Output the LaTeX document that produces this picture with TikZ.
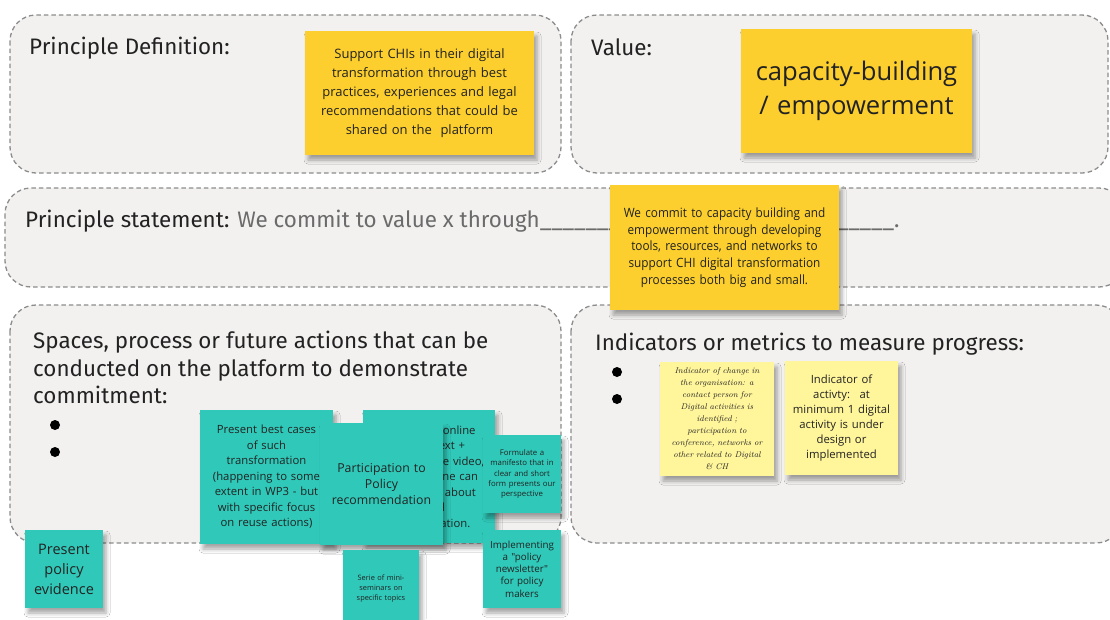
\documentclass[tikz,border=0pt]{standalone}
\usepackage{fontspec}
\newfontfamily\osans{Open Sans}
\newfontfamily\ocond[FakeStretch=0.92]{Open Sans}
\newfontfamily\hdr{Fira Sans}
\usetikzlibrary{shadows.blur}
\definecolor{boxfill}{HTML}{F2F1F0}
\definecolor{boxline}{HTML}{8C8C8C}
\definecolor{stkyellow}{HTML}{FCCF2E}
\definecolor{stkteal}{HTML}{30C9B9}
\definecolor{stklight}{HTML}{FFF59B}
\definecolor{ink}{HTML}{222222}
\definecolor{greytext}{HTML}{6B6B6B}
\begin{document}
\begin{tikzpicture}[x=1pt,y=-1pt,
  panel/.style={draw=boxline, fill=boxfill, line width=1.3pt, dash pattern=on 4.5pt off 3pt, rounded corners=26pt},
  header/.style={inner sep=0pt, text=ink, font=\hdr\fontsize{22.4}{27.5}\selectfont, align=left},
  sticky/.style={inner sep=0pt, align=center, text=ink, font=\osans,
    blur shadow={shadow xshift=3pt, shadow yshift=-5pt, shadow blur radius=4pt, shadow opacity=35}},
  yel/.style={sticky, fill=stkyellow},
  teal/.style={sticky, fill=stkteal},
  lyel/.style={sticky, fill=stklight},
  bullet/.style={fill=black}]
\useasboundingbox (0,0) rectangle (1110,619);
\clip (0,0) rectangle (1110,619);
\fill[white] (0,0) rectangle (1110,619);
% panels
\draw[panel] (10,15) rectangle (561,173);
\draw[panel] (571,15) rectangle (1108,173);
\draw[panel] (5,188) rectangle (1125,287);
\draw[panel] (10,305) rectangle (561,543);
\draw[panel] (571,305) rectangle (1122,543);
% headers
\node[header, anchor=west] (pdef) at (29,48) {Principle Definition:};
\node[header, anchor=west] (val) at (591,47) {Value:};
\node[header, anchor=base west] (pstate) at (25,227) {Principle statement: {\color{greytext}We commit to value x through\_\_\_\_\_\_\_\_\_\_\_\_\_\_\_\_\_\_\_\_\_\_\_\_\_\_\_\_\_\_\_.}};
\node[header, anchor=north west] (spaces) at (33,331) {Spaces, process or future actions that can be\\conducted on the platform to demonstrate\\commitment:};
\node[header, anchor=west] (indic) at (595,344) {Indicators or metrics to measure progress:};
% bullets
\fill[bullet] (55,425) circle (5pt);
\fill[bullet] (55,452) circle (5pt);
\fill[bullet] (617,372) circle (5pt);
\fill[bullet] (617,399) circle (5pt);
% yellow stickies
\node[yel, minimum width=229pt, minimum height=124pt, text width=224pt, font=\osans\fontsize{13}{19}\selectfont] (ydef) at (419.5,93)
  {Support CHIs in their digital\\transformation through best\\practices, experiences and legal\\recommendations that could be\\shared on the \ platform};
\node[yel, minimum width=231pt, minimum height=124pt, text width=228pt, font=\osans\fontsize{25.6}{34}\selectfont] (yval) at (856.5,91)
  {capacity-building\\/ empowerment};
\node[yel, minimum width=229pt, minimum height=125pt, text width=224pt, font=\ocond\fontsize{12.8}{16.8}\selectfont] (ystate) at (724.5,247.5)
  {We commit to capacity building and\\empowerment through developing\\tools, resources, and networks to\\support CHI digital transformation\\processes both big and small.};
% teal stickies
\node[teal, minimum width=133pt, minimum height=134pt, text width=130pt, font=\osans\fontsize{11.3}{15.5}\selectfont] (tbest) at (266.5,477)
  {Present best cases\\of such\\transformation\\(happening to some\\extent in WP3 - but\\with specific focus\\on reuse actions)};
\node[teal, minimum width=132pt, minimum height=133pt, text width=130pt, font=\osans\fontsize{11.3}{15.5}\selectfont] (tonline) at (429,476.5)
  {Provide an online\\guides (text +\\possibly some video,\\where anyone can\\learn more about\\digital\\transformation.};
\node[teal, minimum width=123pt, minimum height=122pt, text width=120pt, font=\osans\fontsize{12.3}{16}\selectfont] (tpart) at (381.5,484)
  {Participation to\\Policy\\recommendation};
\node[teal, minimum width=78pt, minimum height=78pt, text width=76pt, font=\osans\fontsize{7.8}{10.3}\selectfont] (tman) at (522,474)
  {Formulate a\\manifesto that in\\clear and short\\form presents our\\perspective};
\node[teal, minimum width=78pt, minimum height=78pt, text width=76pt, font=\osans\fontsize{9.8}{12.3}\selectfont] (tnews) at (522,569)
  {Implementing\\a "policy\\newsletter"\\ for policy\\makers};
\node[teal, minimum width=76pt, minimum height=78pt, text width=74pt, font=\osans\fontsize{7.4}{10}\selectfont] (tsem) at (381,589)
  {Serie of mini-\\seminars on\\specific topics};
\node[teal, minimum width=78pt, minimum height=78pt, text width=76pt, font=\osans\fontsize{14.5}{20}\selectfont] (tevid) at (64,569)
  {Present\\policy\\evidence};
% light yellow stickies
\node[lyel, minimum width=114pt, minimum height=114pt, text width=110pt, font=\itshape\fontsize{8.3}{12}\selectfont] (lchange) at (717,419)
  {Indicator of change in\\the organisation: a\\contact person for\\Digital activities is\\identified ;\\participation to\\conference, networks or\\other related to Digital\\\& CH};
\node[lyel, minimum width=113pt, minimum height=114pt, text width=110pt, font=\osans\fontsize{11.3}{15}\selectfont] (lact) at (841.5,418)
  {Indicator of\\activty: \ at\\minimum 1 digital\\activity is under\\design or\\implemented};
\end{tikzpicture}
\end{document}
